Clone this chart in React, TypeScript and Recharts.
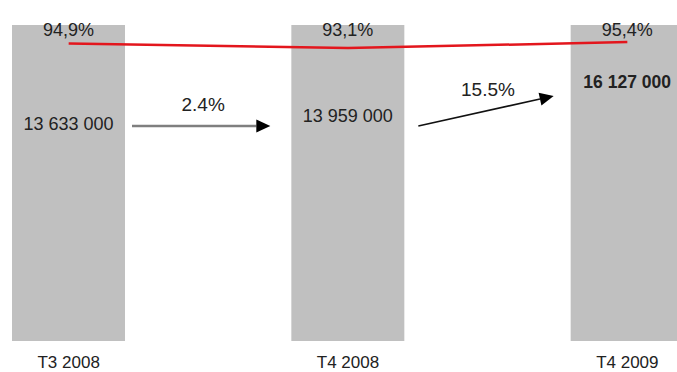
import { ComposedChart, Bar, Line, XAxis, YAxis } from "recharts";

const quarters = ["T3 2008", "T4 2008", "T4 2009"];
const volumes = [13633000, 13959000, 16127000];
const shares = [94.9, 93.1, 95.4];
const growth = [2.4, 15.5];
// bars are drawn as a 100% base column
const base = [100, 100, 100];

const CHART_W = 838;
const CHART_H = 372;
const BAND = CHART_W / quarters.length;
const FONT = "'Liberation Sans', Arial, sans-serif";

// label placement per bar (baseline offset from the bar top)
const valueDy = [105, 97, 63];
// arrow tweaks: start gap after bar, end gap before next bar, rise
const arrowStyle = [
  { gapStart: 7, gapEnd: 21, rise: 0, color: "#7f7f7f", w: 2.5 },
  { gapStart: 14, gapEnd: 17, rise: 30, color: "#111", w: 1.6 },
];

const data = quarters.map((q, i) => ({ q, base: base[i], share: shares[i] }));

const fmtVol = (v: number) => String(v).replace(/\B(?=(\d{3})+(?!\d))/g, " ");
const fmtShare = (v: number) => v.toFixed(1).replace(".", ",") + "%";

function Arrow({ x1, y1, x2, y2, color, w }: any) {
  const len = Math.hypot(x2 - x1, y2 - y1);
  const ux = (x2 - x1) / len;
  const uy = (y2 - y1) / len;
  const hl = 14;
  const hw = 6.5;
  const bx = x2 - ux * hl;
  const by = y2 - uy * hl;
  return (
    <g>
      <line x1={x1} y1={y1} x2={bx} y2={by} stroke={color} strokeWidth={w} />
      <polygon
        points={`${x2},${y2} ${bx - uy * hw},${by + ux * hw} ${bx + uy * hw},${by - ux * hw}`}
        fill="#000"
      />
    </g>
  );
}

function BarShape(props: any) {
  const { x, y, width, height, index } = props;
  const cx = x + width / 2;
  const last = index === quarters.length - 1;
  const a = arrowStyle[index];
  let arrow = null;
  if (a && growth[index] !== undefined) {
    const ay = y + 101;
    const x1 = x + width + a.gapStart;
    const x2 = x + BAND - a.gapEnd;
    const y2 = ay - a.rise;
    arrow = (
      <g>
        <Arrow x1={x1} y1={ay} x2={x2} y2={y2} color={a.color} w={a.w} />
        <text
          x={(x1 + x2) / 2 + 2}
          y={(ay + y2) / 2 - 15}
          textAnchor="middle"
          fontSize={19}
          fontFamily={FONT}
          fill="#222"
        >
          {growth[index].toFixed(1)}%
        </text>
      </g>
    );
  }
  return (
    <g>
      <rect x={x} y={y} width={width} height={height} fill="#c0c0c0" />
      <text x={cx} y={y + 11} textAnchor="middle" fontSize={18} fontFamily={FONT} fill="#222">
        {fmtShare(shares[index])}
      </text>
      <text
        x={cx}
        y={y + valueDy[index]}
        textAnchor="middle"
        fontSize={last ? 17.5 : 18}
        fontWeight={last ? "bold" : "normal"}
        fontFamily={FONT}
        fill="#222"
      >
        {fmtVol(volumes[index])}
      </text>
      {arrow}
    </g>
  );
}

export default function App() {
  return (
    <div
      style={{
        position: "absolute",
        left: 0,
        top: 0,
        width: 677,
        height: 372,
        overflow: "hidden",
        background: "#fff",
      }}
    >
      <div style={{ position: "absolute", left: -71, top: 0 }}>
        <ComposedChart
          width={CHART_W}
          height={CHART_H}
          data={data}
          margin={{ top: 25, right: 0, left: 0, bottom: 0 }}
        >
          <XAxis
            dataKey="q"
            axisLine={false}
            tickLine={false}
            height={31}
            tickMargin={9}
            interval={0}
            tick={{ fontSize: 17, fill: "#222", fontFamily: FONT }}
          />
          <YAxis yAxisId="bar" hide domain={[0, 100]} />
          <YAxis yAxisId="share" hide domain={[-20, 102]} />
          <Bar
            yAxisId="bar"
            dataKey="base"
            barSize={113}
            shape={<BarShape />}
            isAnimationActive={false}
          />
          <Line
            yAxisId="share"
            dataKey="share"
            stroke="#e3161d"
            strokeWidth={2.5}
            dot={false}
            isAnimationActive={false}
          />
        </ComposedChart>
      </div>
    </div>
  );
}
